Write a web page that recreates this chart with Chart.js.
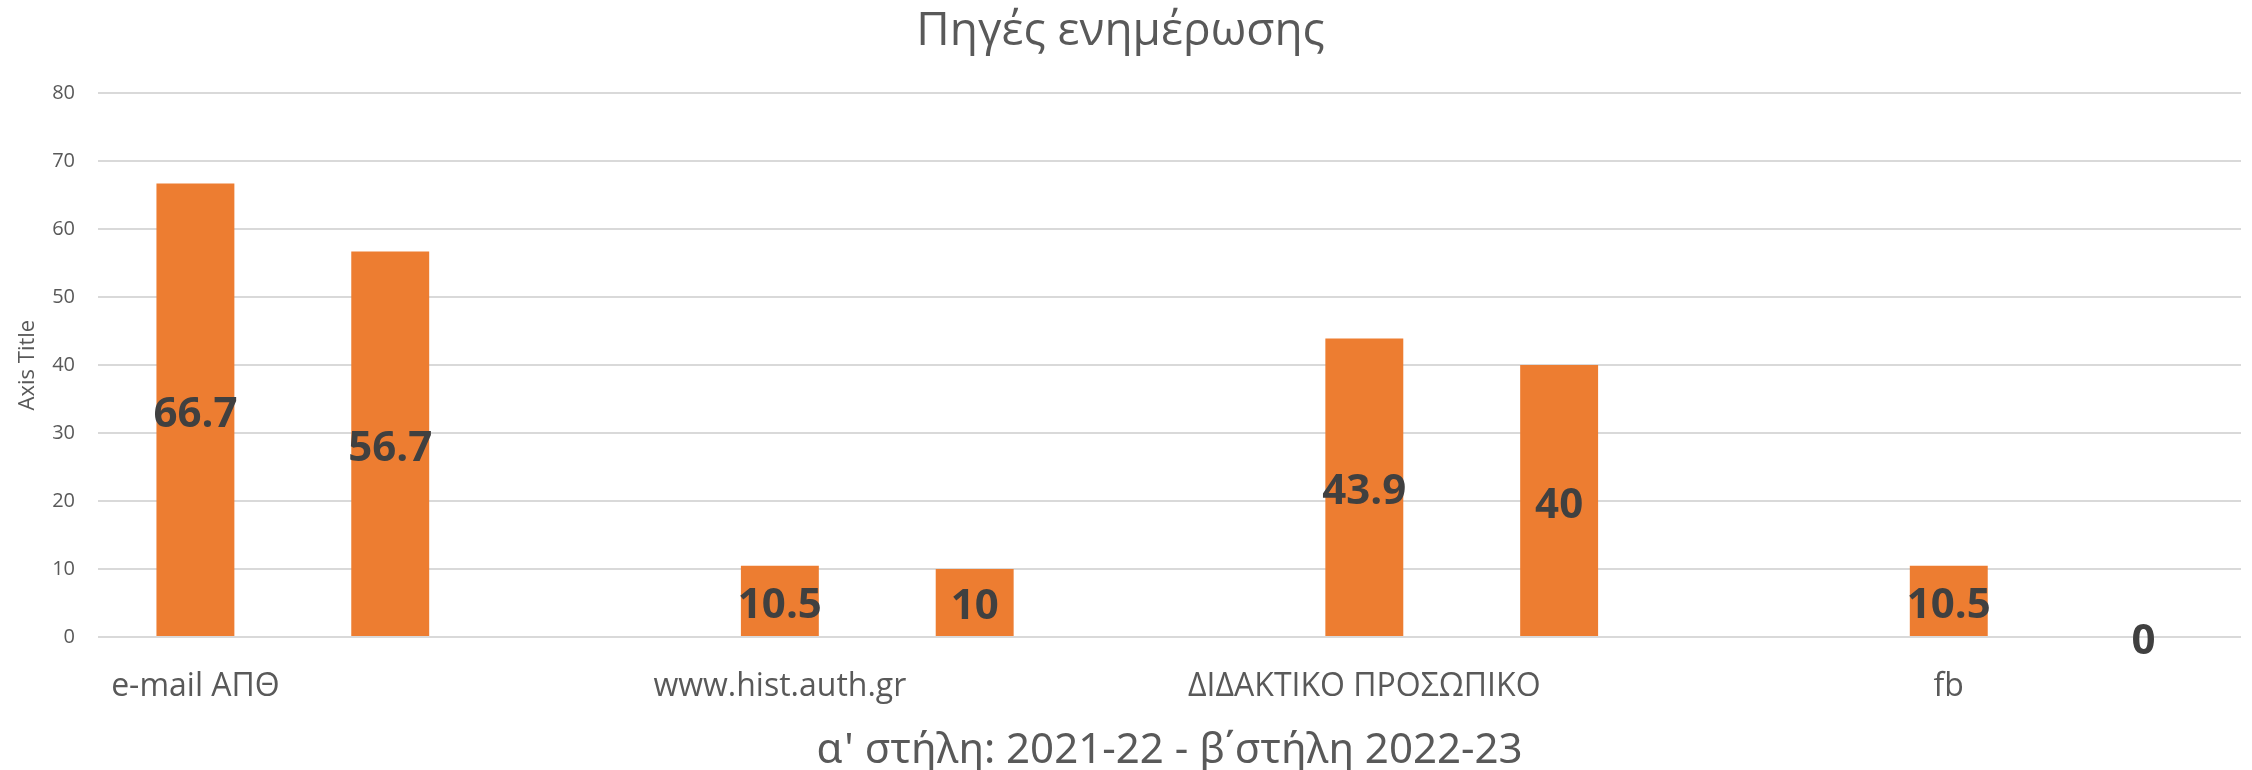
<!DOCTYPE html>
<html lang="el">
<head>
    <meta charset="UTF-8">
    <title>Πηγές ενημέρωσης</title>
    <script src="https://cdn.jsdelivr.net/npm/chart.js"></script>
    <style>
        body {
            margin: 0;
            padding: 0;
            background-color: #ffffff;
        }
        .chart-container {
            width: 2252px;
            height: 770px;
        }
    </style>
</head>
<body>
    <div class="chart-container">
        <canvas id="sourcesChart"></canvas>
    </div>

    <script>
        // data: a' column = 2021-22, b' column = 2022-23
        const categories = ['e-mail ΑΠΘ', '', '', 'www.hist.auth.gr', '', '', 'ΔΙΔΑΚΤΙΚΟ ΠΡΟΣΩΠΙΚΟ', '', '', 'fb', ''];
        const percentages = [66.7, 56.7, null, 10.5, 10, null, 43.9, 40, null, 10.5, 0];
        const yTicks = [0, 10, 20, 30, 40, 50, 60, 70, 80];

        const textColor = '#595959';
        const fontFamily = "'Open Sans', 'Noto Sans', sans-serif";

        // value labels centred in each bar (no datalabels plugin offline)
        const barLabels = {
            id: 'barLabels',
            afterDatasetsDraw(chart) {
                const ctx = chart.ctx;
                ctx.save();
                ctx.font = 'bold 42px ' + fontFamily;
                ctx.fillStyle = '#404040';
                ctx.textAlign = 'center';
                ctx.textBaseline = 'middle';
                chart.data.datasets.forEach((ds, i) => {
                    chart.getDatasetMeta(i).data.forEach((bar, j) => {
                        if (ds.data[j] == null) return;
                        const p = bar.getProps(['x', 'y', 'base'], true);
                        ctx.fillText(String(ds.data[j]), p.x, (p.y + p.base) / 2 + 5);
                    });
                });
                ctx.restore();
            }
        };

        new Chart(document.getElementById('sourcesChart'), {
            type: 'bar',
            data: {
                labels: categories,
                datasets: [{
                    label: 'Πηγές ενημέρωσης',
                    data: percentages,
                    backgroundColor: '#ED7D31',
                    categoryPercentage: 1,
                    barPercentage: 0.4
                }]
            },
            options: {
                responsive: true,
                maintainAspectRatio: false,
                animation: false,
                layout: { padding: { left: 0, right: 11, top: 0, bottom: 0 } },
                plugins: {
                    legend: { display: false },
                    tooltip: { enabled: false },
                    title: {
                        display: true,
                        text: 'Πηγές ενημέρωσης',
                        color: textColor,
                        font: { family: fontFamily, size: 46, weight: 'normal' },
                        padding: { top: 4, bottom: 34 }
                    }
                },
                scales: {
                    x: {
                        grid: { display: false, drawTicks: false },
                        border: { display: false },
                        ticks: {
                            color: textColor,
                            font: { family: fontFamily, size: 32 },
                            autoSkip: false,
                            maxRotation: 0,
                            minRotation: 0,
                            padding: 31
                        },
                        title: {
                            display: true,
                            text: 'α\' στήλη: 2021-22 - β΄στήλη 2022-23',
                            color: textColor,
                            font: { family: "'Noto Sans', 'Open Sans', sans-serif", size: 42, lineHeight: 0.9 },
                            padding: { top: 0, bottom: 0 }
                        },
                        afterFit(scale) { scale.height = 133; }
                    },
                    y: {
                        min: 0,
                        max: yTicks[yTicks.length - 1],
                        grid: { color: '#d9d9d9', lineWidth: 2, drawTicks: false },
                        border: { display: false },
                        afterBuildTicks(scale) { scale.ticks = yTicks.map(v => ({ value: v })); },
                        ticks: {
                            color: textColor,
                            font: { family: fontFamily, size: 20 },
                            padding: 23
                        },
                        title: {
                            display: true,
                            text: 'Axis Title',
                            color: textColor,
                            font: { family: fontFamily, size: 22 },
                            padding: { top: 15, bottom: 0 }
                        },
                        afterFit(scale) { scale.width = 98; }
                    }
                }
            },
            plugins: [barLabels]
        });
    </script>
</body>
</html>
